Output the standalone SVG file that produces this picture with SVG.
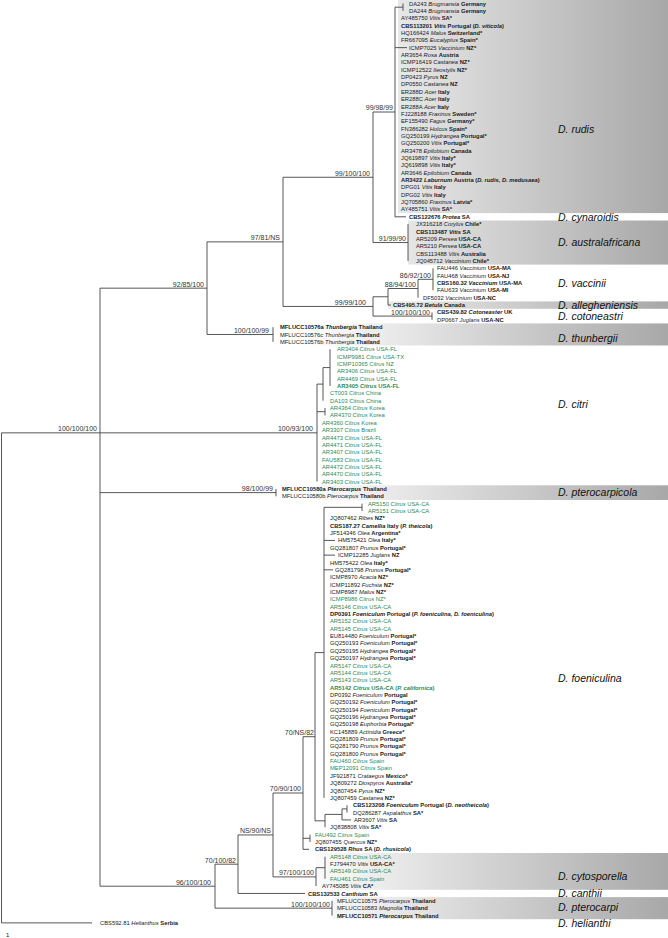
<svg xmlns="http://www.w3.org/2000/svg" width="668" height="938" viewBox="0 0 668 938">
<style>
text{font-family:"Liberation Sans",Arial,sans-serif}
.l{font-size:5.8px;fill:#1a1a1a}
.g{fill:#2a8a5a}
.b{font-weight:bold}
.i{font-style:italic}
.c{font-weight:bold}
.s{font-size:7px;fill:#333;text-anchor:end}
.sp{font-size:10.5px;font-style:italic;fill:#111}
.e{fill:none;stroke:#444;stroke-width:0.9}
</style>
<defs>
<linearGradient id="band" gradientUnits="userSpaceOnUse" x1="300" y1="0" x2="668" y2="0">
<stop offset="0" stop-color="#ffffff"/>
<stop offset="1" stop-color="#a8a8a8"/>
</linearGradient>
</defs>
<rect width="668" height="938" fill="#fff"/>
<g id="bands" fill="url(#band)">
<rect x="398" y="0" width="270" height="213.1"/>
<rect x="408" y="220.5" width="260" height="44.1"/>
<rect x="388" y="301.4" width="280" height="7.4"/>
<rect x="273" y="323.4" width="395" height="22.1"/>
<rect x="276" y="485.3" width="392" height="14.7"/>
<rect x="316" y="853" width="352" height="36.8"/>
<rect x="332" y="897.1" width="336" height="22.1"/>
</g>
<g id="edges">
<path class="e" d="M1.5 432.85V922.88M1.5 432.85H100M1.5 922.88H92
M100 288.17V886.2M100 288.17H207M100 432.85H317M100 492.61H276M100 886.2H215
M207 241.86V334.48M207 241.86H283M207 334.48H273
M283 177.27V306.44M283 177.27H373M283 306.44H373
M373 112V242.54M373 112H395M373 242.54H408
M395 7.18V216.8M395 7.18H403M403 3.5V10.86M395 47.63H407M395 216.8H406
M408 224.15V260.93
M373 296.78V316.09M373 296.78H388M373 316.09H432
M388 288.51V305.06M388 288.51H418M388 305.06H391
M418 279.32V297.7M418 279.32H433
M433 268.28V290.35
M432 312.41V319.77
M273 327.12V341.83
M317 384.12V481.58M317 384.12H323M317 411.7H325
M323 367.58V400.67M323 367.58H330
M330 349.19V385.96
M325 408.03V415.38
M276 488.93V496.29
M324 507.32V797.84M324 507.32H362M324 540.42H335M324 555.13H335M324 569.84H333
M362 503.64V511
M315 652.58V820.83M315 652.58H324M315 820.83H325
M325 814.39V827.26M325 814.39H342
M342 808.88V819.91M342 808.88H347M342 819.91H351
M347 805.2V812.55
M303 736.7V849.33M303 736.7H315M303 838.3H310M303 849.33H309
M310 834.62V841.97
M273 793V876.9M273 793H303M273 876.9H316
M316 867.7V886.1M316 867.7H325
M325 856.68V878.75
M238 834.95V893.46M238 834.95H273M238 893.46H305
M215 864.2V908.17M215 864.2H238M215 908.17H332
M332 900.81V915.52"/>
</g>
<g id="support">
<text class="s" x="97" y="431.3">100/100/100</text>
<text class="s" x="204" y="286.6">92/85/100</text>
<text class="s" x="313" y="431.3">100/93/100</text>
<text class="s" x="273" y="491">98/100/99</text>
<text class="s" x="211" y="884.6">96/100/100</text>
<text class="s" x="280" y="240.3">97/81/NS</text>
<text class="s" x="269" y="332.9">100/100/99</text>
<text class="s" x="370" y="175.7">99/100/100</text>
<text class="s" x="366" y="304.9">99/99/100</text>
<text class="s" x="393" y="110.4">99/98/99</text>
<text class="s" x="406" y="241">91/99/90</text>
<text class="s" x="416" y="287">88/94/100</text>
<text class="s" x="431" y="277.8">86/92/100</text>
<text class="s" x="430" y="314.5">100/100/100</text>
<text class="s" x="314" y="735.1">70/NS/82</text>
<text class="s" x="301" y="791.4">70/90/100</text>
<text class="s" x="271" y="833.4">NS/90/NS</text>
<text class="s" x="314" y="875.3">97/100/100</text>
<text class="s" x="236" y="862.6">70/100/82</text>
<text class="s" x="330" y="906.6">100/100/100</text>
</g>
<g id="clades">
<text class="sp" x="558" y="132.5">D. rudis</text>
<text class="sp" x="558" y="220.6">D. cynaroidis</text>
<text class="sp" x="558" y="246.4">D. australafricana</text>
<text class="sp" x="558" y="286.8">D. vaccinii</text>
<text class="sp" x="558" y="308.8">D. allegheniensis</text>
<text class="sp" x="558" y="320.3">D. cotoneastri</text>
<text class="sp" x="558" y="341.8">D. thunbergii</text>
<text class="sp" x="558" y="407.8">D. citri</text>
<text class="sp" x="558" y="496.4">D. pterocarpicola</text>
<text class="sp" x="558" y="681.8">D. foeniculina</text>
<text class="sp" x="558" y="879.8">D. cytosporella</text>
<text class="sp" x="558" y="897.3">D. canthii</text>
<text class="sp" x="558" y="911.4">D. pterocarpi</text>
<text class="sp" x="558" y="926.7">D. helianthi</text>
</g>
<g id="taxa">
<g id="n0"><text class="l" x="409" y="5.5">DA243 <tspan class="i">Brugmansia</tspan> <tspan class="c">Germany</tspan></text></g>
<g id="n1"><text class="l" x="409" y="12.9">DA244 <tspan class="i">Brugmansia</tspan> <tspan class="c">Germany</tspan></text></g>
<g id="n2"><text class="l" x="401" y="20.2">AY485750 <tspan class="i">Vitis</tspan> <tspan class="c">SA*</tspan></text></g>
<g id="n3"><text class="l b" x="401" y="27.6">CBS113201 <tspan class="i">Vitis</tspan> Portugal (<tspan class="i">D. viticola</tspan>)</text></g>
<g id="n4"><text class="l" x="401" y="34.9">HQ166424 <tspan class="i">Malus</tspan> <tspan class="c">Switzerland*</tspan></text></g>
<g id="n5"><text class="l" x="401" y="42.3">FR667095 <tspan class="i">Eucalyptus</tspan> <tspan class="c">Spain*</tspan></text></g>
<g id="n6"><text class="l" x="409" y="49.6">ICMP7025 <tspan class="i">Vaccinium</tspan> <tspan class="c">NZ*</tspan></text></g>
<g id="n7"><text class="l" x="401" y="57">AR3654 <tspan class="i">Rosa</tspan> <tspan class="c">Austria</tspan></text></g>
<g id="n8"><text class="l" x="401" y="64.3">ICMP16419 <tspan class="i">Castanea</tspan> <tspan class="c">NZ*</tspan></text></g>
<g id="n9"><text class="l" x="401" y="71.7">ICMP12522 <tspan class="i">Ileostylis</tspan> <tspan class="c">NZ*</tspan></text></g>
<g id="n10"><text class="l" x="401" y="79.1">DP0423 <tspan class="i">Pyrus</tspan> <tspan class="c">NZ</tspan></text></g>
<g id="n11"><text class="l" x="401" y="86.4">DP0550 <tspan class="i">Castanea</tspan> <tspan class="c">NZ</tspan></text></g>
<g id="n12"><text class="l" x="401" y="93.8">ER288D <tspan class="i">Acer</tspan> <tspan class="c">Italy</tspan></text></g>
<g id="n13"><text class="l" x="401" y="101.1">ER288C <tspan class="i">Acer</tspan> <tspan class="c">Italy</tspan></text></g>
<g id="n14"><text class="l" x="401" y="108.5">ER288A <tspan class="i">Acer</tspan> <tspan class="c">Italy</tspan></text></g>
<g id="n15"><text class="l" x="401" y="115.8">FJ228188 <tspan class="i">Fraxinus</tspan> <tspan class="c">Sweden*</tspan></text></g>
<g id="n16"><text class="l" x="401" y="123.2">EF155490 <tspan class="i">Fagus</tspan> <tspan class="c">Germany*</tspan></text></g>
<g id="n17"><text class="l" x="401" y="130.5">FN386282 <tspan class="i">Holcus</tspan> <tspan class="c">Spain*</tspan></text></g>
<g id="n18"><text class="l" x="401" y="137.9">GQ250199 <tspan class="i">Hydrangea</tspan> <tspan class="c">Portugal*</tspan></text></g>
<g id="n19"><text class="l" x="401" y="145.3">GQ250200 <tspan class="i">Vitis</tspan> <tspan class="c">Portugal*</tspan></text></g>
<g id="n20"><text class="l" x="401" y="152.6">AR3478 <tspan class="i">Epilobium</tspan> <tspan class="c">Canada</tspan></text></g>
<g id="n21"><text class="l" x="401" y="160">JQ619897 <tspan class="i">Vitis</tspan> <tspan class="c">Italy*</tspan></text></g>
<g id="n22"><text class="l" x="401" y="167.3">JQ619898 <tspan class="i">Vitis</tspan> <tspan class="c">Italy*</tspan></text></g>
<g id="n23"><text class="l" x="401" y="174.7">AR3646 <tspan class="i">Epilobium</tspan> <tspan class="c">Canada</tspan></text></g>
<g id="n24"><text class="l b" x="401" y="182">AR3422 <tspan class="i">Laburnum</tspan> Austria (<tspan class="i">D. rudis, D. medusaea</tspan>)</text></g>
<g id="n25"><text class="l" x="401" y="189.4">DPG01 <tspan class="i">Vitis</tspan> <tspan class="c">Italy</tspan></text></g>
<g id="n26"><text class="l" x="401" y="196.7">DPG02 <tspan class="i">Vitis</tspan> <tspan class="c">Italy</tspan></text></g>
<g id="n27"><text class="l" x="401" y="204.1">JQ705860 <tspan class="i">Fraxinus</tspan> <tspan class="c">Latvia*</tspan></text></g>
<g id="n28"><text class="l" x="401" y="211.4">AY485751 <tspan class="i">Vitis</tspan> <tspan class="c">SA*</tspan></text></g>
<g id="n29"><text class="l b" x="409" y="218.8">CBS122676 <tspan class="i">Protea</tspan> SA</text></g>
<g id="n30"><text class="l" x="416" y="226.2">JX316218 <tspan class="i">Corylus</tspan> <tspan class="c">Chile*</tspan></text></g>
<g id="n31"><text class="l b" x="416" y="233.5">CBS113487 <tspan class="i">Vitis</tspan> SA</text></g>
<g id="n32"><text class="l" x="416" y="240.9">AR5209 <tspan class="i">Persea</tspan> <tspan class="c">USA-CA</tspan></text></g>
<g id="n33"><text class="l" x="416" y="248.2">AR5210 <tspan class="i">Persea</tspan> <tspan class="c">USA-CA</tspan></text></g>
<g id="n34"><text class="l" x="416" y="255.6">CBS113488 <tspan class="i">Vitis</tspan> <tspan class="c">Australia</tspan></text></g>
<g id="n35"><text class="l" x="416" y="262.9">JQ045712 <tspan class="i">Vaccinium</tspan> <tspan class="c">Chile*</tspan></text></g>
<g id="n36"><text class="l" x="437" y="270.3">FAU446 <tspan class="i">Vaccinium</tspan> <tspan class="c">USA-MA</tspan></text></g>
<g id="n37"><text class="l" x="437" y="277.6">FAU468 <tspan class="i">Vaccinium</tspan> <tspan class="c">USA-NJ</tspan></text></g>
<g id="n38"><text class="l b" x="437" y="285">CBS160.32 <tspan class="i">Vaccinium</tspan> USA-MA</text></g>
<g id="n39"><text class="l" x="437" y="292.4">FAU633 <tspan class="i">Vaccinium</tspan> <tspan class="c">USA-MI</tspan></text></g>
<g id="n40"><text class="l" x="423" y="299.7">DF5032 <tspan class="i">Vaccinium</tspan> <tspan class="c">USA-NC</tspan></text></g>
<g id="n41"><text class="l b" x="393" y="307.1">CBS495.72 <tspan class="i">Betula</tspan> Canada</text></g>
<g id="n42"><text class="l b" x="437" y="314.4">CBS439.82 <tspan class="i">Cotoneaster</tspan> UK</text></g>
<g id="n43"><text class="l" x="437" y="321.8">DP0667 <tspan class="i">Juglans</tspan> <tspan class="c">USA-NC</tspan></text></g>
<g id="n44"><text class="l b" x="280" y="329.1">MFLUCC10576a <tspan class="i">Thunbergia</tspan> Thailand</text></g>
<g id="n45"><text class="l" x="280" y="336.5">MFLUCC10576c <tspan class="i">Thunbergia</tspan> <tspan class="c">Thailand</tspan></text></g>
<g id="n46"><text class="l" x="280" y="343.8">MFLUCC10576b <tspan class="i">Thunbergia</tspan> <tspan class="c">Thailand</tspan></text></g>
<g id="n47"><text class="l g" x="337" y="351.2">AR3404 <tspan class="i">Citrus</tspan> USA-FL</text></g>
<g id="n48"><text class="l g" x="337" y="358.5">ICMP9981 <tspan class="i">Citrus</tspan> USA-TX</text></g>
<g id="n49"><text class="l g" x="337" y="365.9">ICMP10365 <tspan class="i">Citrus</tspan> NZ</text></g>
<g id="n50"><text class="l g" x="337" y="373.3">AR3406 <tspan class="i">Citrus</tspan> USA-FL</text></g>
<g id="n51"><text class="l g" x="337" y="380.6">AR4469 <tspan class="i">Citrus</tspan> USA-FL</text></g>
<g id="n52"><text class="l g b" x="337" y="388">AR3405 <tspan class="i">Citrus</tspan> USA-FL</text></g>
<g id="n53"><text class="l g" x="330" y="395.3">CT003 <tspan class="i">Citrus</tspan> China</text></g>
<g id="n54"><text class="l g" x="330" y="402.7">DA103 <tspan class="i">Citrus</tspan> China</text></g>
<g id="n55"><text class="l g" x="330" y="410">AR4364 <tspan class="i">Citrus</tspan> Korea</text></g>
<g id="n56"><text class="l g" x="330" y="417.4">AR4370 <tspan class="i">Citrus</tspan> Korea</text></g>
<g id="n57"><text class="l g" x="322" y="424.7">AR4360 <tspan class="i">Citrus</tspan> Korea</text></g>
<g id="n58"><text class="l g" x="322" y="432.1">AR3307 <tspan class="i">Citrus</tspan> Brazil</text></g>
<g id="n59"><text class="l g" x="322" y="439.5">AR4473 <tspan class="i">Citrus</tspan> USA-FL</text></g>
<g id="n60"><text class="l g" x="322" y="446.8">AR4471 <tspan class="i">Citrus</tspan> USA-FL</text></g>
<g id="n61"><text class="l g" x="322" y="454.2">AR3407 <tspan class="i">Citrus</tspan> USA-FL</text></g>
<g id="n62"><text class="l g" x="322" y="461.5">FAU583 <tspan class="i">Citrus</tspan> USA-FL</text></g>
<g id="n63"><text class="l g" x="322" y="468.9">AR4472 <tspan class="i">Citrus</tspan> USA-FL</text></g>
<g id="n64"><text class="l g" x="322" y="476.2">AR4470 <tspan class="i">Citrus</tspan> USA-FL</text></g>
<g id="n65"><text class="l g" x="322" y="483.6">AR3403 <tspan class="i">Citrus</tspan> USA-FL</text></g>
<g id="n66"><text class="l b" x="282" y="490.9">MFLUCC10580a <tspan class="i">Pterocarpus</tspan> Thailand</text></g>
<g id="n67"><text class="l" x="282" y="498.3">MFLUCC10580b <tspan class="i">Pterocarpus</tspan> <tspan class="c">Thailand</tspan></text></g>
<g id="n68"><text class="l g" x="368" y="505.6">AR5150 <tspan class="i">Citrus</tspan> USA-CA</text></g>
<g id="n69"><text class="l g" x="368" y="513">AR5151 <tspan class="i">Citrus</tspan> USA-CA</text></g>
<g id="n70"><text class="l" x="330" y="520.4">JQ807462 <tspan class="i">Ribes</tspan> <tspan class="c">NZ*</tspan></text></g>
<g id="n71"><text class="l b" x="330" y="527.7">CBS187.27 <tspan class="i">Camellia</tspan> Italy (<tspan class="i">P. theicola</tspan>)</text></g>
<g id="n72"><text class="l" x="330" y="535.1">JF514346 <tspan class="i">Olea</tspan> <tspan class="c">Argentina*</tspan></text></g>
<g id="n73"><text class="l" x="338" y="542.4">HM575421 <tspan class="i">Olea</tspan> <tspan class="c">Italy*</tspan></text></g>
<g id="n74"><text class="l" x="330" y="549.8">GQ281807 <tspan class="i">Prunus</tspan> <tspan class="c">Portugal*</tspan></text></g>
<g id="n75"><text class="l" x="338" y="557.1">ICMP12285 <tspan class="i">Juglans</tspan> <tspan class="c">NZ</tspan></text></g>
<g id="n76"><text class="l" x="330" y="564.5">HM575422 <tspan class="i">Olea</tspan> <tspan class="c">Italy*</tspan></text></g>
<g id="n77"><text class="l" x="335" y="571.8">GQ281798 <tspan class="i">Prunus</tspan> <tspan class="c">Portugal*</tspan></text></g>
<g id="n78"><text class="l" x="330" y="579.2">ICMP8970 <tspan class="i">Acacia</tspan> <tspan class="c">NZ*</tspan></text></g>
<g id="n79"><text class="l" x="330" y="586.6">ICMP11892 <tspan class="i">Fuchsia</tspan> <tspan class="c">NZ*</tspan></text></g>
<g id="n80"><text class="l" x="330" y="593.9">ICMP8987 <tspan class="i">Malus</tspan> <tspan class="c">NZ*</tspan></text></g>
<g id="n81"><text class="l g" x="330" y="601.3">ICMP8986 <tspan class="i">Citrus</tspan> NZ*</text></g>
<g id="n82"><text class="l g" x="330" y="608.6">AR5146 <tspan class="i">Citrus</tspan> USA-CA</text></g>
<g id="n83"><text class="l b" x="330" y="616">DP0391 <tspan class="i">Foeniculum</tspan> Portugal (<tspan class="i">P. foeniculina, D. foeniculina</tspan>)</text></g>
<g id="n84"><text class="l g" x="330" y="623.3">AR5152 <tspan class="i">Citrus</tspan> USA-CA</text></g>
<g id="n85"><text class="l g" x="330" y="630.7">AR5145 <tspan class="i">Citrus</tspan> USA-CA</text></g>
<g id="n86"><text class="l" x="330" y="638">EU814480 <tspan class="i">Foeniculum</tspan> <tspan class="c">Portugal*</tspan></text></g>
<g id="n87"><text class="l" x="330" y="645.4">GQ250193 <tspan class="i">Foeniculum</tspan> <tspan class="c">Portugal*</tspan></text></g>
<g id="n88"><text class="l" x="330" y="652.7">GQ250195 <tspan class="i">Hydrangea</tspan> <tspan class="c">Portugal*</tspan></text></g>
<g id="n89"><text class="l" x="330" y="660.1">GQ250197 <tspan class="i">Hydrangea</tspan> <tspan class="c">Portugal*</tspan></text></g>
<g id="n90"><text class="l g" x="330" y="667.5">AR5147 <tspan class="i">Citrus</tspan> USA-CA</text></g>
<g id="n91"><text class="l g" x="330" y="674.8">AR5144 <tspan class="i">Citrus</tspan> USA-CA</text></g>
<g id="n92"><text class="l g" x="330" y="682.2">AR5143 <tspan class="i">Citrus</tspan> USA-CA</text></g>
<g id="n93"><text class="l g b" x="330" y="689.5">AR5142 <tspan class="i">Citrus</tspan> USA-CA (<tspan class="i">P. californica</tspan>)</text></g>
<g id="n94"><text class="l" x="330" y="696.9">DP0392 <tspan class="i">Foeniculum</tspan> <tspan class="c">Portugal</tspan></text></g>
<g id="n95"><text class="l" x="330" y="704.2">GQ250192 <tspan class="i">Foeniculum</tspan> <tspan class="c">Portugal*</tspan></text></g>
<g id="n96"><text class="l" x="330" y="711.6">GQ250194 <tspan class="i">Foeniculum</tspan> <tspan class="c">Portugal*</tspan></text></g>
<g id="n97"><text class="l" x="330" y="718.9">GQ250196 <tspan class="i">Hydrangea</tspan> <tspan class="c">Portugal*</tspan></text></g>
<g id="n98"><text class="l" x="330" y="726.3">GQ250198 <tspan class="i">Euphorbia</tspan> <tspan class="c">Portugal*</tspan></text></g>
<g id="n99"><text class="l" x="330" y="733.7">KC145889 <tspan class="i">Actinidia</tspan> <tspan class="c">Greece*</tspan></text></g>
<g id="n100"><text class="l" x="330" y="741">GQ281809 <tspan class="i">Prunus</tspan> <tspan class="c">Portugal*</tspan></text></g>
<g id="n101"><text class="l" x="330" y="748.4">GQ281790 <tspan class="i">Prunus</tspan> <tspan class="c">Portugal*</tspan></text></g>
<g id="n102"><text class="l" x="330" y="755.7">GQ281800 <tspan class="i">Prunus</tspan> <tspan class="c">Portugal*</tspan></text></g>
<g id="n103"><text class="l g" x="330" y="763.1">FAU460 <tspan class="i">Citrus</tspan> Spain</text></g>
<g id="n104"><text class="l g" x="330" y="770.4">MEP12091 <tspan class="i">Citrus</tspan> Spain</text></g>
<g id="n105"><text class="l" x="330" y="777.8">JF921871 <tspan class="i">Crataegus</tspan> <tspan class="c">Mexico*</tspan></text></g>
<g id="n106"><text class="l" x="330" y="785.1">JQ809272 <tspan class="i">Diospyros</tspan> <tspan class="c">Australia*</tspan></text></g>
<g id="n107"><text class="l" x="330" y="792.5">JQ807454 <tspan class="i">Pyrus</tspan> <tspan class="c">NZ*</tspan></text></g>
<g id="n108"><text class="l" x="330" y="799.8">JQ807459 <tspan class="i">Castanea</tspan> <tspan class="c">NZ*</tspan></text></g>
<g id="n109"><text class="l b" x="353" y="807.2">CBS123208 <tspan class="i">Foeniculum</tspan> Portugal (<tspan class="i">D. neotheicola</tspan>)</text></g>
<g id="n110"><text class="l" x="353" y="814.6">DQ286287 <tspan class="i">Aspalathus</tspan> <tspan class="c">SA*</tspan></text></g>
<g id="n111"><text class="l" x="354" y="821.9">AR3607 <tspan class="i">Vitis</tspan> <tspan class="c">SA</tspan></text></g>
<g id="n112"><text class="l" x="330" y="829.3">JQ838808 <tspan class="i">Vitis</tspan> <tspan class="c">SA*</tspan></text></g>
<g id="n113"><text class="l g" x="315" y="836.6">FAU492 <tspan class="i">Citrus</tspan> Spain</text></g>
<g id="n114"><text class="l" x="315" y="844">JQ807455 <tspan class="i">Quercus</tspan> <tspan class="c">NZ*</tspan></text></g>
<g id="n115"><text class="l b" x="315" y="851.3">CBS129528 <tspan class="i">Rhus</tspan> SA (<tspan class="i">D. rhusicola</tspan>)</text></g>
<g id="n116"><text class="l g" x="330" y="858.7">AR5148 <tspan class="i">Citrus</tspan> USA-CA</text></g>
<g id="n117"><text class="l" x="330" y="866">FJ794470 <tspan class="i">Vitis</tspan> <tspan class="c">USA-CA*</tspan></text></g>
<g id="n118"><text class="l g" x="330" y="873.4">AR5149 <tspan class="i">Citrus</tspan> USA-CA</text></g>
<g id="n119"><text class="l g" x="330" y="880.8">FAU461 <tspan class="i">Citrus</tspan> Spain</text></g>
<g id="n120"><text class="l" x="322" y="888.1">AY745085 <tspan class="i">Vitis</tspan> <tspan class="c">CA*</tspan></text></g>
<g id="n121"><text class="l b" x="308" y="895.5">CBS132533 <tspan class="i">Canthium</tspan> SA</text></g>
<g id="n122"><text class="l" x="337" y="902.8">MFLUCC10575 <tspan class="i">Pterocarpus</tspan> <tspan class="c">Thailand</tspan></text></g>
<g id="n123"><text class="l" x="337" y="910.2">MFLUCC10583 <tspan class="i">Magnolia</tspan> <tspan class="c">Thailand</tspan></text></g>
<g id="n124"><text class="l b" x="337" y="917.5">MFLUCC10571 <tspan class="i">Pterocarpus</tspan> Thailand</text></g>
<g id="n125"><text class="l" x="100" y="924.9">CBS592.81 <tspan class="i">Helianthus</tspan> <tspan class="c">Serbia</tspan></text></g>
</g>
<text id="scale" x="6" y="937" style="font-size:6px;fill:#222">1</text>
</svg>
